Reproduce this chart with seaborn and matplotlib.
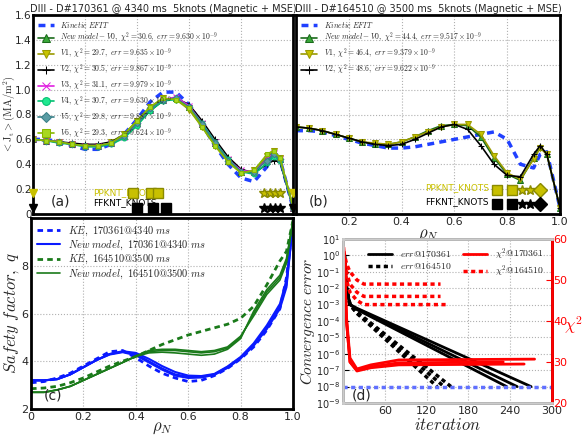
import numpy as np
import matplotlib
matplotlib.use("Agg")
import matplotlib.pyplot as plt
import seaborn as sns

sns.set_style("whitegrid", {"grid.linestyle": ":", "grid.color": "#b0b0b0"})
plt.rcParams['font.family'] = ['DejaVu Sans']
plt.rcParams['mathtext.fontset'] = 'cm'

rho = [0, .05, .1, .15, .2, .25, .3, .35, .4, .45, .5, .55, .6, .65, .7, .75, .8, .85, .9, .925, .95, 1.0]

# Panel (a) 170361
a_ke = [.60, .60, .58, .55, .52, .52, .56, .64, .76, .90, .98, .98, .88, .72, .55, .40, .29, .26, .38, .50, .44, .05]
a_var = {
 "V0": [.60, .59, .58, .56, .55, .55, .57, .63, .73, .84, .92, .93, .86, .72, .57, .43, .34, .34, .45, .50, .44, .05],
 "V1": [.60, .59, .58, .56, .55, .55, .58, .64, .75, .86, .93, .92, .84, .70, .55, .42, .33, .35, .47, .51, .45, .06],
 "V2": [.60, .59, .58, .57, .56, .56, .58, .63, .72, .83, .91, .93, .88, .75, .60, .46, .36, .33, .40, .43, .42, .05],
 "V3": [.60, .59, .58, .56, .55, .55, .57, .62, .72, .84, .92, .94, .87, .73, .58, .44, .35, .34, .44, .49, .44, .05],
 "V4": [.60, .59, .57, .56, .54, .54, .56, .61, .71, .83, .91, .92, .86, .73, .58, .44, .34, .32, .41, .46, .43, .05],
 "V5": [.60, .59, .58, .56, .55, .55, .57, .63, .73, .85, .92, .93, .86, .72, .57, .43, .34, .34, .43, .48, .44, .05],
 "V6": [.60, .59, .58, .56, .55, .55, .57, .64, .75, .86, .93, .92, .85, .70, .55, .42, .33, .35, .48, .51, .45, .06],
}
a_lab = {
 "V0": r"$New\ model-V0,\ \chi^2=30.6,\ err=9.630\times10^{-9}$",
 "V1": r"$V1,\ \chi^2=29.7,\ err=9.635\times10^{-9}$",
 "V2": r"$V2,\ \chi^2=30.5,\ err=9.867\times10^{-9}$",
 "V3": r"$V3,\ \chi^2=31.1,\ err=9.979\times10^{-9}$",
 "V4": r"$V4,\ \chi^2=30.7,\ err=9.630\times10^{-9}$",
 "V5": r"$V5,\ \chi^2=29.8,\ err=9.887\times10^{-9}$",
 "V6": r"$V6,\ \chi^2=29.3,\ err=9.624\times10^{-9}$",
}
# Panel (b) 164510
b_ke = [.67, .67, .66, .63, .60, .57, .55, .53, .53, .54, .56, .58, .60, .62, .64, .66, .60, .40, .37, .48, .50, .05]
b_var = {
 "V0": [.70, .69, .67, .64, .61, .58, .56, .56, .58, .62, .67, .71, .72, .71, .62, .45, .32, .27, .45, .54, .48, .05],
 "V1": [.70, .69, .67, .64, .61, .58, .57, .56, .58, .62, .66, .70, .72, .72, .64, .47, .33, .28, .44, .53, .48, .05],
 "V2": [.70, .69, .67, .64, .61, .58, .56, .55, .56, .60, .65, .70, .72, .68, .55, .40, .31, .30, .48, .55, .48, .05],
}
b_lab = {
 "V0": r"$New\ model-V0,\ \chi^2=44.4,\ err=9.517\times10^{-9}$",
 "V1": r"$V1,\ \chi^2=46.4,\ err=9.379\times10^{-9}$",
 "V2": r"$V2,\ \chi^2=48.6,\ err=9.622\times10^{-9}$",
}
styles = {
 "V0": dict(color="#1a6b1a", marker="^", mfc="#3aa83a", ms=4),
 "V1": dict(color="#9a9a00", marker="v", mfc="#c8c400", ms=4),
 "V2": dict(color="black", marker="+", mfc="black", ms=4),
 "V3": dict(color="#e020e0", marker="x", mfc="#e020e0", ms=4),
 "V4": dict(color="#00c070", marker="o", mfc="#20e890", ms=3.5),
 "V5": dict(color="#3a8088", marker="D", mfc="#5a9ca4", ms=3.5),
 "V6": dict(color="#88b800", marker="s", mfc="#a8d820", ms=3.5),
}
# knots
a_pp = [.385, .455, .48]
a_ff = [.40, .46, .51]
a_edge = [.89, .91, .93, .95]
b_pp = [.76, .817]
b_st = [.855, .885]
b_dm = [.925]

# Panel (c)
rho_c = [0, .05, .1, .15, .2, .25, .3, .35, .4, .45, .5, .55, .6, .65, .7, .75, .8, .85, .9, .95, .975, 1.0]
c_ke1 = [3.1, 3.15, 3.3, 3.5, 3.8, 4.1, 4.4, 4.45, 4.15, 3.8, 3.5, 3.3, 3.15, 3.2, 3.4, 3.7, 4.1, 4.6, 5.3, 6.2, 7.5, 9.8]
c_new1 = [[3.2, 3.2, 3.25, 3.45, 3.75, 4.05, 4.3, 4.4, 4.3, 4.0, 3.7, 3.45, 3.35, 3.35, 3.45, 3.75, 4.15, 4.7, 5.4, 6.3, 7.2, 9.8],
          [3.2, 3.2, 3.25, 3.45, 3.75, 4.05, 4.3, 4.42, 4.35, 4.1, 3.8, 3.55, 3.4, 3.38, 3.47, 3.78, 4.18, 4.75, 5.5, 6.4, 7.4, 9.8],
          [3.2, 3.2, 3.25, 3.45, 3.75, 4.05, 4.28, 4.38, 4.25, 3.95, 3.65, 3.4, 3.3, 3.32, 3.43, 3.72, 4.12, 4.65, 5.35, 6.2, 7.1, 9.8]]
c_ke2 = [2.85, 2.88, 2.95, 3.1, 3.3, 3.55, 3.8, 4.0, 4.2, 4.45, 4.7, 4.9, 5.1, 5.25, 5.4, 5.55, 5.8, 6.3, 7.2, 8.2, 8.6, 9.9]
c_new2 = [[2.7, 2.7, 2.8, 2.95, 3.2, 3.45, 3.7, 3.95, 4.2, 4.4, 4.45, 4.45, 4.4, 4.35, 4.4, 4.55, 5.0, 6.0, 6.9, 7.5, 8.2, 9.9],
          [2.7, 2.7, 2.8, 2.95, 3.2, 3.45, 3.7, 3.95, 4.2, 4.35, 4.38, 4.35, 4.3, 4.25, 4.3, 4.5, 4.95, 6.1, 7.0, 7.6, 8.3, 9.9],
          [2.7, 2.7, 2.8, 2.95, 3.2, 3.45, 3.7, 3.95, 4.22, 4.45, 4.5, 4.5, 4.45, 4.4, 4.45, 4.6, 5.05, 5.9, 6.8, 7.4, 8.1, 9.9]]

# Panel (d)
err_s_it = [[2, 5, 10, 20, 235], [2, 5, 10, 20, 250], [2, 5, 10, 20, 270]]
err_s_v = [[1, 1e-2, 1e-3, 5e-4, 1e-8], [1, 1e-2, 1e-3, 5.5e-4, 1e-8], [1, 1e-2, 1e-3, 6e-4, 1e-8]]
err_d_it = [[2, 5, 10, 20, 135], [2, 5, 10, 20, 145], [2, 5, 10, 20, 155]]
err_d_v = [[1, 1e-2, 1e-3, 3e-4, 1e-8], [1, 1e-2, 1e-3, 3e-4, 1e-8], [1, 1e-2, 1e-3, 3.5e-4, 1e-8]]
chi_s_it = [[1, 5, 10, 20, 40, 80, 230], [1, 5, 10, 20, 40, 80, 260], [1, 5, 10, 20, 40, 80, 275]]
chi_s_v = [[58, 40, 30, 28, 28.8, 29.8, 30.0], [58, 40, 30, 27.8, 28.6, 29.3, 29.5], [58, 41, 31, 28.3, 29.3, 30.5, 30.7]]
chi_d_it = [[1, 5, 10, 20, 30, 140], [1, 5, 10, 20, 30, 140], [1, 5, 10, 20, 30, 150]]
chi_d_v = [[57, 54, 52, 50, 49, 49], [56, 52, 49, 47, 46, 46], [55, 50, 47, 45, 44, 44]]
err_target = 1e-8

fig = plt.figure(figsize=(5.84, 4.38), dpi=100)
W, H = 584, 438
def box(l, t, r, b):
    return [l / W, 1 - b / H, (r - l) / W, (b - t) / H]

def frame(ax, lw=2):
    for s in ax.spines.values():
        s.set_color("black"); s.set_linewidth(lw); s.set_visible(True)
    ax.tick_params(direction="in", length=4, color="black", labelsize=8, pad=2)

YEL = "#c8c000"
axA = fig.add_axes(box(33, 15, 293, 214))
axB = fig.add_axes(box(296, 15, 560, 214))
for ax, ke, var, lab, title in [(axA, a_ke, a_var, a_lab, "DIII - D#170361 @ 4340 ms  5knots (Magnetic + MSE)"),
                                (axB, b_ke, b_var, b_lab, "DIII - D#164510 @ 3500 ms  5knots (Magnetic + MSE)")]:
    sns.lineplot(x=rho, y=ke, ax=ax, color="#2040ff", lw=2.5, linestyle=(0, (2, 1.5)), label=r"$Kinetic\ EFIT$", sort=False)
    for k, v in var.items():
        st = styles[k]
        sns.lineplot(x=rho, y=v, ax=ax, color=st["color"], lw=1.2, marker=st["marker"], markerfacecolor=st["mfc"],
                     markeredgecolor=st["color"], markersize=st["ms"], label=lab[k], sort=False)
    ax.set_xlim(0, 1); ax.set_ylim(0, 1.6)
    ax.set_title(title, fontsize=7, pad=2)
    ax.legend(loc="upper left", fontsize=5.5, frameon=False, handlelength=2.2, labelspacing=0.15,
              borderaxespad=0.2, markerscale=1.6)
    frame(ax)
axA.set_xticklabels([]); axB.set_yticklabels([])
axA.set_xticks([0, .2, .4, .6, .8, 1.0])
axA.set_yticks([0, .2, .4, .6, .8, 1.0, 1.2, 1.4, 1.6])
axA.set_yticklabels(["0", "0.2", "0.4", "0.6", "0.8", "1.0", "1.2", "1.4", "1.6"], fontsize=7.5)
axA.tick_params(axis="y", pad=1)
fig.text(1 / W, 0.5 * (1 - 214 / H) + 0.5 * (1 - 15 / H), r"$<\mathrm{J_t}>(\mathrm{MA/m^2})$", fontsize=7.5,
         rotation=90, va="center", ha="left")
axB.set_xticks([.2, .4, .6, .8, 1.0])
axB.set_xticklabels(["0.2", "0.4", "0.6", "0.8", "1.0"], fontsize=8)
axB.set_xlabel(r"$\rho_N$", fontsize=12, labelpad=-1)

# knots
kw = dict(ls="none", clip_on=False, zorder=5)
axA.plot(a_pp, [.17] * 3, marker="s", ms=7, mfc=YEL, mec="#8a8a00", **kw)
axA.plot(a_ff, [.05] * 3, marker="s", ms=7, color="black", **kw)
axA.plot(a_edge, [.17] * 4, marker="*", ms=7, color=YEL, mec="#8a8a00", **kw)
axA.plot(a_edge, [.05] * 4, marker="*", ms=7, color="black", **kw)
axA.plot([0, 1], [.17, .17], marker="v", ms=6, color=YEL, **kw)
axA.plot([0, 1], [.05, .05], marker="v", ms=6, color="black", **kw)
axA.text(0.23, .17, "PPKNT_KNOTS", color=YEL, fontsize=6.5, va="center")
axA.text(0.23, .09, "FFKNT_KNOTS", color="black", fontsize=6.5, va="center")
axA.text(0.07, .10, "(a)", fontsize=10, va="center")
axB.plot(b_pp, [.19] * 2, marker="s", ms=7, mfc=YEL, mec="#8a8a00", **kw)
axB.plot(b_st, [.19] * 2, marker="*", ms=7, color=YEL, mec="#8a8a00", **kw)
axB.plot(b_dm, [.19], marker="D", ms=7, color=YEL, mec="#8a8a00", **kw)
axB.plot(b_pp, [.08] * 2, marker="s", ms=7, color="black", **kw)
axB.plot(b_st, [.08] * 2, marker="*", ms=7, color="black", **kw)
axB.plot(b_dm, [.08], marker="D", ms=7, color="black", **kw)
axB.text(0.49, .21, "PPKNT_KNOTS", color=YEL, fontsize=6.5, va="center")
axB.text(0.49, .10, "FFKNT_KNOTS", color="black", fontsize=6.5, va="center")
axB.text(0.05, .10, "(b)", fontsize=10, va="center")

# panel c
axC = fig.add_axes(box(31, 218, 293, 409))
BL, GR = "#0a1aff", "#1a7a1a"
sns.lineplot(x=rho_c, y=c_ke1, ax=axC, color=BL, lw=2, linestyle=(0, (2, 1.5)), label=r"$KE,\ 170361@4340\ ms$", sort=False)
for i, v in enumerate(c_new1):
    sns.lineplot(x=rho_c, y=v, ax=axC, color=BL, lw=1.5, label=r"$New\ model,\ 170361@4340\ ms$" if i == 0 else None, sort=False)
sns.lineplot(x=rho_c, y=c_ke2, ax=axC, color=GR, lw=2, linestyle=(0, (2, 1.5)), label=r"$KE,\ 164510@3500\ ms$", sort=False)
for i, v in enumerate(c_new2):
    sns.lineplot(x=rho_c, y=v, ax=axC, color=GR, lw=1.2, label=r"$New\ model,\ 164510@3500\ ms$" if i == 0 else None, sort=False)
axC.set_xlim(0, 1); axC.set_ylim(2, 10)
axC.set_xticks([0, .2, .4, .6, .8, 1.0]); axC.set_xticklabels(["0", "0.2", "0.4", "0.6", "0.8", "1.0"], fontsize=8)
axC.set_yticks([2, 4, 6, 8]); axC.set_yticklabels(["2", "4", "6", "8"], fontsize=8)
axC.set_xlabel(r"$\rho_N$", fontsize=12, labelpad=-3)
axC.set_ylabel(r"$Safety\ factor,\ q$", fontsize=12, labelpad=0)
axC.legend(loc="upper left", fontsize=7.5, frameon=False, handlelength=2.2, labelspacing=0.1, borderaxespad=0.2)
axC.text(0.05, 2.55, "(c)", fontsize=10, va="center")
frame(axC)

# panel d
axD = fig.add_axes(box(343, 239, 552, 403))
axD2 = axD.twinx()
for i, (it, v) in enumerate(zip(err_s_it, err_s_v)):
    sns.lineplot(x=it, y=v, ax=axD, color="black", lw=2, label=r"$err@170361$" if i == 0 else None, sort=False)
for i, (it, v) in enumerate(zip(err_d_it, err_d_v)):
    sns.lineplot(x=it, y=v, ax=axD, color="black", lw=2.5, linestyle=(0, (1.2, 1)), label=r"$err@164510$" if i == 0 else None, sort=False)
axD.plot([0, 300], [err_target, err_target], color="#6070ff", lw=2.5, ls=(0, (1.2, 1)))
axD.set_yscale("log"); axD.set_ylim(1e-9, 10); axD.set_xlim(0, 300)
axD.set_yticks([10.0 ** k for k in range(-9, 2)])
axD.minorticks_off()
for i, (it, v) in enumerate(zip(chi_s_it, chi_s_v)):
    sns.lineplot(x=it, y=v, ax=axD2, color="red", lw=2, label=r"$\chi^2@170361$" if i == 0 else None, sort=False)
for i, (it, v) in enumerate(zip(chi_d_it, chi_d_v)):
    sns.lineplot(x=it, y=v, ax=axD2, color="red", lw=2.5, linestyle=(0, (1.2, 1)), label=r"$\chi^2@164510$" if i == 0 else None, sort=False)
axD2.set_ylim(20, 60); axD2.set_yticks([20, 30, 40, 50, 60])
axD2.grid(False)
axD2.tick_params(axis="y", colors="red", labelsize=8, direction="in", length=4, pad=1)
fig.text(583 / W, 1 - 325 / H, r"$\chi^2$", color="red", fontsize=12, ha="right", va="center")
axD.set_xticks([60, 120, 180, 240, 300]); axD.set_xticklabels(["60", "120", "180", "240", "300"], fontsize=8)
axD.set_xlabel(r"$iteration$", fontsize=12, labelpad=0)
axD.set_ylabel(r"$Convergence\ error$", fontsize=11, labelpad=-1)
h1, l1 = axD.get_legend_handles_labels(); h2, l2 = axD2.get_legend_handles_labels()
if axD.get_legend(): axD.get_legend().remove()
if axD2.get_legend(): axD2.get_legend().remove()
axD2.legend(h1 + h2, l1 + l2, loc="upper right", ncol=2, fontsize=7, frameon=False, handlelength=2.5,
            columnspacing=1.2, labelspacing=0.1, borderaxespad=0.4)
axD.text(12, 3e-9, "(d)", fontsize=10, va="center")
frame(axD)
for s in axD2.spines.values():
    s.set_linewidth(2)
axD2.spines["right"].set_color("red")
axD.tick_params(axis="y", labelsize=7)
axD.grid(True, which="major", axis="x")

fig.savefig("out.png", dpi=100)
